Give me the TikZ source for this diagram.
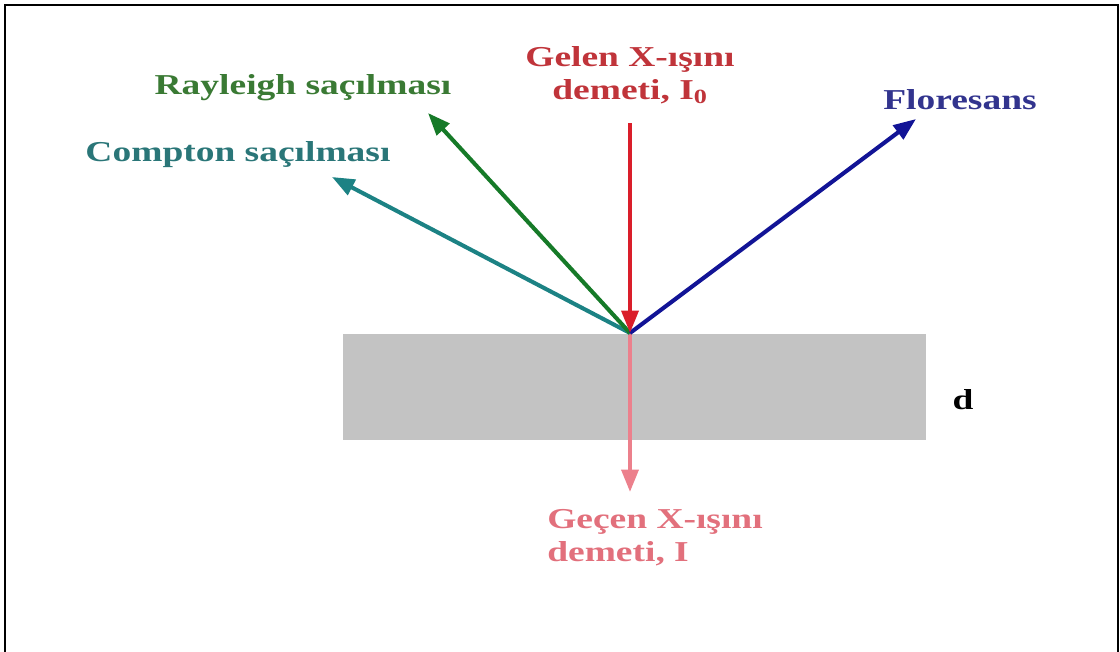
\documentclass[tikz,border=0pt]{standalone}
\usepackage{fontspec}
\setmainfont{Liberation Serif}[FakeStretch=1.3]
\usetikzlibrary{arrows.meta}

\definecolor{beamred}{RGB}{218,30,42}
\definecolor{beamredtxt}{RGB}{192,52,58}
\definecolor{raygreen}{RGB}{22,122,40}
\definecolor{raygreentxt}{RGB}{58,122,52}
\definecolor{compteal}{RGB}{28,130,132}
\definecolor{compteatxt}{RGB}{42,118,120}
\definecolor{flublue}{RGB}{18,20,150}
\definecolor{flubluetxt}{RGB}{50,52,142}
\definecolor{passpink}{RGB}{236,128,140}
\definecolor{passpinktxt}{RGB}{226,112,124}
\definecolor{samplegray}{RGB}{195,195,195}

\begin{document}
\begin{tikzpicture}[x=0.025cm,y=-0.025cm,>={Triangle[length=16pt,width=12pt]}]
  \tikzstyle{ray}=[line width=2.9pt, ->]
  \tikzstyle{lbl}=[inner sep=0pt, align=center, font=\fontsize{20.5}{23.5}\selectfont\bfseries]

  \useasboundingbox (0,0) rectangle (1120,652);
  \draw[line width=1.8pt] (5,652) -- (5,5) -- (1118,5) -- (1118,652);

  % sample slab
  \node[fill=samplegray, minimum width=583*0.025cm, minimum height=106*0.025cm, inner sep=0pt, anchor=north west] (slab) at (343,334) {};
  \node[lbl, text=black] (thick) at (963,400) {d};

  \coordinate (o) at (630,333);
  \coordinate (src) at (630,123);
  \coordinate (raytip) at (428,113);
  \coordinate (comptip) at (332,177);
  \coordinate (flutip) at (916,119);
  \coordinate (passtip) at (630,492);

  % scattered and emitted beams
  \draw[ray, passpink] (o) -- (passtip);
  \draw[ray, compteal] (o) -- (comptip);
  \draw[ray, raygreen] (o) -- (raytip);
  \draw[ray, flublue] (o) -- (flutip);
  \draw[ray, beamred] (src) -- (o);

  \node[lbl, text=raygreentxt] (rayleigh) at (303,88) {Rayleigh saçılması};
  \node[lbl, text=compteatxt] (compton) at (238,155) {Compton saçılması};
  \node[lbl, text=beamredtxt] (incoming) at (630,75) {Gelen X-ışını\\demeti, I\textsubscript{0}};
  \node[lbl, text=flubluetxt] (fluor) at (960,100) {Floresans};
  \node[lbl, align=left, anchor=west, text=passpinktxt] (passed) at (547,538) {Geçen X-ışını\\demeti, I};
\end{tikzpicture}
\end{document}
